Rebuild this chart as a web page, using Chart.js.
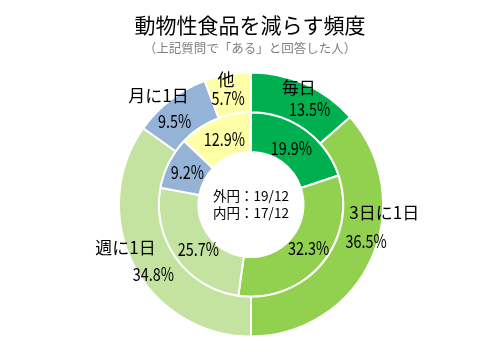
<!DOCTYPE html>
<html>
<head>
<meta charset="utf-8">
<script src="https://cdn.jsdelivr.net/npm/chart.js@4/dist/chart.umd.min.js"></script>
<style>
  html, body { margin: 0; padding: 0; background: #ffffff; }
  #wrap { width: 500px; height: 357px; position: relative; }
</style>
</head>
<body>
<div id="wrap"><canvas id="c" width="500" height="357"></canvas></div>
<script>
// ---- data ----
const categories = ['毎日', '3日に1日', '週に1日', '月に1日', '他'];
const outerValues = [13.5, 36.5, 34.8, 9.5, 5.7];   // 外円 19/12
const innerValues = [19.9, 32.3, 25.7, 9.2, 12.9];  // 内円 17/12
const titleText = '動物性食品を減らす頻度';
const subtitleText = '（上記質問で「ある」と回答した人）';
const centerLines = ['外円：19/12', '内円：17/12'];

// ---- styles ----
const sliceColors = ['#00B050', '#92D050', '#C4E3A0', '#95B3D7', '#FFFFA8'];
const nameFont = '17px "Noto Sans CJK JP", "Liberation Sans", sans-serif';
const valueFont = '18px "Noto Sans CJK JP", "Liberation Sans", sans-serif';
const valueScaleX = 0.8;
// per-slice label offsets from the slice midpoint: [nameDx, nameDy, valueDx, valueDy]
const outerLabelOffsets = [
  [1.5, -14.5, 12.5, 6.5],
  [31, -38, 13, -9],
  [-26, -8.5, 2, 18.5],
  [-24, -20, -8, 5],
  [-5, -15, -3, 4]
];
const innerLabelOffsets = [[-2, 2], [2, -3], [6, 2], [1, 0.5], [2, 1.5]];

function drawValue(ctx, text, x, y) {
  ctx.save();
  ctx.font = valueFont;
  ctx.translate(x, y);
  ctx.scale(valueScaleX, 1);
  ctx.fillText(text, 0, 0);
  ctx.restore();
}

const labelPlugin = {
  id: 'labels',
  afterDatasetsDraw(chart) {
    const ctx = chart.ctx;
    ctx.save();
    ctx.fillStyle = '#000000';
    ctx.textAlign = 'center';
    ctx.textBaseline = 'middle';
    chart.data.datasets.forEach((ds, di) => {
      const meta = chart.getDatasetMeta(di);
      meta.data.forEach((arc, i) => {
        const p = arc.getProps(['x', 'y', 'startAngle', 'endAngle', 'innerRadius', 'outerRadius'], true);
        const a = (p.startAngle + p.endAngle) / 2;
        const r = (p.innerRadius + p.outerRadius) / 2;
        const ax = p.x + Math.cos(a) * r;
        const ay = p.y + Math.sin(a) * r;
        const valText = ds.data[i].toFixed(1) + '%';
        if (di === 0) {
          const o = outerLabelOffsets[i];
          ctx.font = nameFont;
          ctx.fillText(categories[i], ax + o[0], ay + o[1]);
          drawValue(ctx, valText, ax + o[2], ay + o[3]);
        } else {
          const o = innerLabelOffsets[i];
          drawValue(ctx, valText, ax + o[0], ay + o[1]);
        }
      });
    });
    // center text
    const m = chart.getDatasetMeta(0).data[0];
    ctx.font = '13.5px "Noto Sans CJK JP", sans-serif';
    ctx.fillText(centerLines[0], m.x, m.y - 8.5);
    ctx.fillText(centerLines[1], m.x, m.y + 8.5);
    // titles
    ctx.font = '21px "Noto Sans CJK JP", sans-serif';
    ctx.fillStyle = '#000000';
    ctx.fillText(titleText, 250, 25);
    ctx.font = '12.5px "Noto Sans CJK JP", sans-serif';
    ctx.fillStyle = '#7F7F7F';
    ctx.fillText(subtitleText, 250, 48);
    ctx.restore();
  }
};

new Chart(document.getElementById('c'), {
  type: 'doughnut',
  data: {
    labels: categories,
    datasets: [
      { data: outerValues, backgroundColor: sliceColors, borderColor: '#ffffff', borderWidth: 2 },
      { data: innerValues, backgroundColor: sliceColors, borderColor: '#ffffff', borderWidth: 2 }
    ]
  },
  options: {
    responsive: false,
    animation: false,
    cutout: '39.8%',
    layout: { padding: { left: 118, right: 116, top: 71.5, bottom: 19.5 } },
    plugins: {
      legend: { display: false },
      tooltip: { enabled: false },
      title: { display: false }
    }
  },
  plugins: [labelPlugin]
});
</script>
</body>
</html>
